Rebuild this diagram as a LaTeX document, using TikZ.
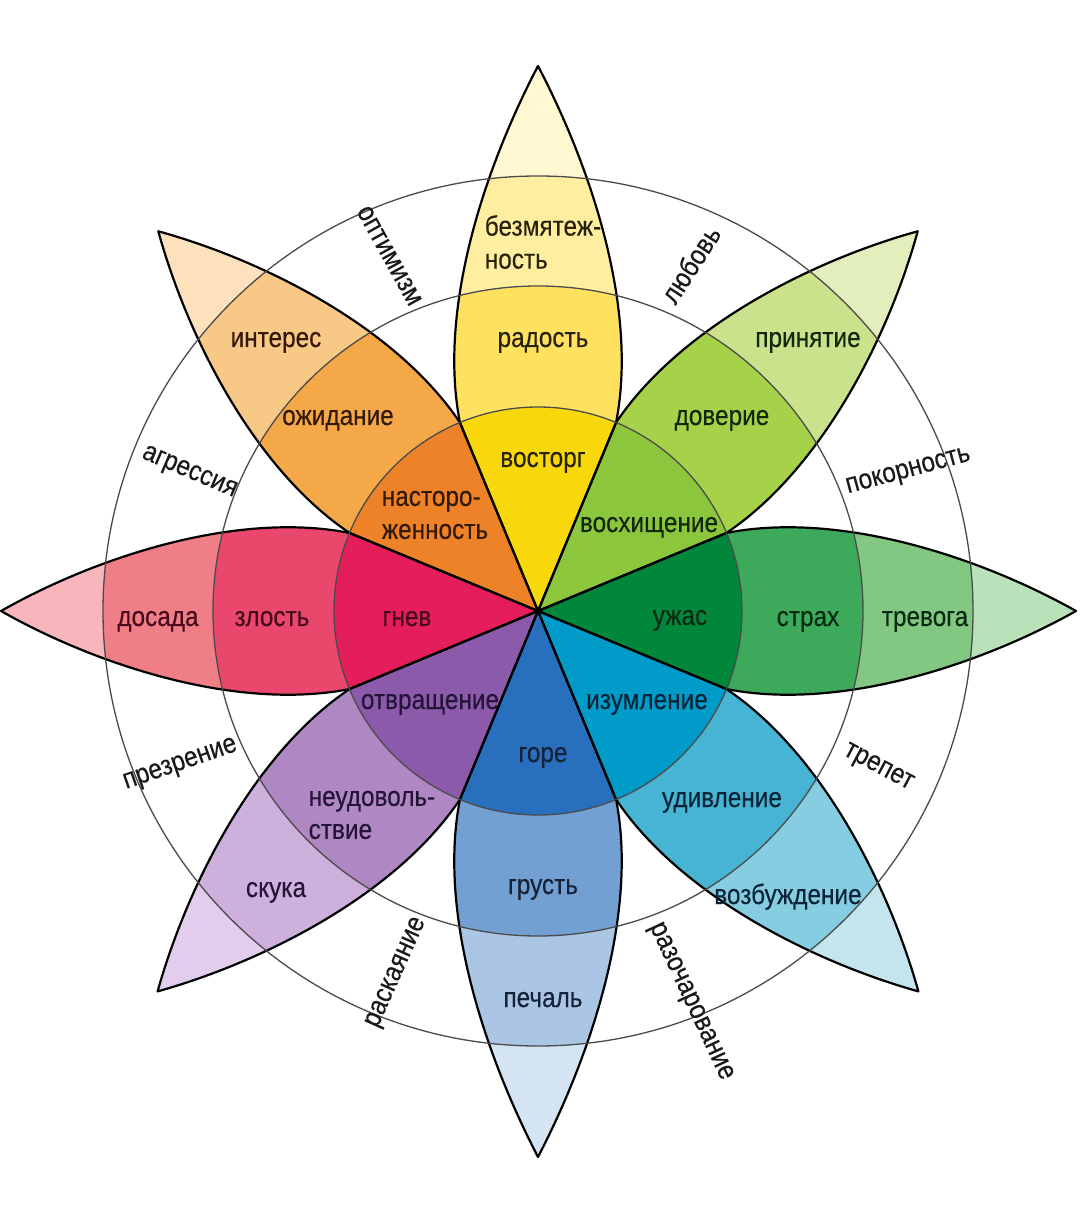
\documentclass[tikz,border=0pt]{standalone}
\usepackage{fontspec}
\setmainfont{Liberation Sans}[FakeStretch=0.87,FakeBold=0.3]
\definecolor{Ya}{RGB}{248,216,10}\definecolor{Yb}{RGB}{254,226,95}\definecolor{Yc}{RGB}{255,238,160}\definecolor{Yd}{RGB}{255,248,208}
\definecolor{Oa}{RGB}{238,130,40}\definecolor{Ob}{RGB}{244,168,72}\definecolor{Oc}{RGB}{248,200,135}\definecolor{Od}{RGB}{252,225,188}
\definecolor{Ra}{RGB}{228,30,90}\definecolor{Rb}{RGB}{233,72,108}\definecolor{Rc}{RGB}{240,126,134}\definecolor{Rd}{RGB}{246,182,188}
\definecolor{Pa}{RGB}{140,90,170}\definecolor{Pb}{RGB}{175,135,195}\definecolor{Pc}{RGB}{205,176,220}\definecolor{Pd}{RGB}{226,206,236}
\definecolor{Ba}{RGB}{40,112,190}\definecolor{Bb}{RGB}{115,160,210}\definecolor{Bc}{RGB}{170,198,228}\definecolor{Bd}{RGB}{212,228,242}
\definecolor{Ca}{RGB}{0,155,200}\definecolor{Cb}{RGB}{70,180,210}\definecolor{Cc}{RGB}{135,205,225}\definecolor{Cd}{RGB}{196,228,238}
\definecolor{Ga}{RGB}{0,135,60}\definecolor{Gb}{RGB}{60,170,90}\definecolor{Gc}{RGB}{130,200,130}\definecolor{Gd}{RGB}{186,226,186}
\definecolor{La}{RGB}{140,198,60}\definecolor{Lb}{RGB}{165,210,72}\definecolor{Lc}{RGB}{202,226,140}\definecolor{Ld}{RGB}{226,238,188}
\definecolor{Ty}{RGB}{40,34,12}\definecolor{To}{RGB}{50,25,8}\definecolor{Tr}{RGB}{72,10,28}\definecolor{Tp}{RGB}{36,20,56}
\definecolor{Tb}{RGB}{22,34,56}\definecolor{Tc}{RGB}{10,36,56}\definecolor{Tg}{RGB}{8,42,18}\definecolor{Tl}{RGB}{18,40,12}
\definecolor{ringcol}{RGB}{75,75,75}
\newcommand\petalshape[1]{(0,0) -- (22.5:204) .. controls (300,100) and (440,55) .. (#1,0) .. controls (440,-55) and (300,-100) .. (-22.5:204) -- cycle}
\newcommand\mypetal[6]{%
\begin{scope}[rotate=#1]
\fill[#6] \petalshape{#2};
\begin{scope}
\clip \petalshape{#2};
\fill[#5] (0,0) circle (435);
\fill[#4] (0,0) circle (325);
\fill[#3] (0,0) circle (204);
\end{scope}
\end{scope}}
\newcommand\petaledge[2]{\draw[petalline,rotate=#1] \petalshape{#2};}
\begin{document}
\begin{tikzpicture}[x=1pt,y=1pt,
  petalline/.style={draw=black,line width=2.2pt,line join=round},
  ringline/.style={draw=ringcol,line width=1.3pt},
  lbl/.style={font=\fontsize{28}{31}\selectfont,text height=14pt,text depth=0pt,inner sep=0pt},
  mlbl/.style={font=\fontsize{28}{33}\selectfont,align=left,inner sep=0pt},
  dlbl/.style={font=\fontsize{28}{31}\selectfont,text=black!90,text height=14pt,text depth=0pt,inner sep=0pt}]
\fill[white] (-538,-620) rectangle (542,611);
\useasboundingbox (-538,-620) rectangle (542,611);
\mypetal{90}{545}{Ya}{Yb}{Yc}{Yd}
\mypetal{135}{537}{Oa}{Ob}{Oc}{Od}
\mypetal{180}{537}{Ra}{Rb}{Rc}{Rd}
\mypetal{225}{538}{Pa}{Pb}{Pc}{Pd}
\mypetal{270}{546}{Ba}{Bb}{Bc}{Bd}
\mypetal{315}{538}{Ca}{Cb}{Cc}{Cd}
\mypetal{0}{538}{Ga}{Gb}{Gc}{Gd}
\mypetal{45}{537}{La}{Lb}{Lc}{Ld}
\petaledge{90}{545}\petaledge{135}{537}\petaledge{180}{537}\petaledge{225}{538}
\petaledge{270}{546}\petaledge{315}{538}\petaledge{0}{538}\petaledge{45}{537}
\draw[ringline] (0,0) circle (204);
\draw[ringline] (0,0) circle (325);
\draw[ringline] (0,0) circle (435);
% primary emotions
\node[lbl,text=Ty] (vostorg) at (5,151) {восторг};
\node[lbl,text=Ty] (radost) at (5,271) {радость};
\node[mlbl,text=Ty] (bezm) at (5,369) {безмятеж-\\ность};
\node[mlbl,text=To] (nastor) at (-103,96) {насторо-\\женность};
\node[lbl,text=To] (ozhid) at (-200,193) {ожидание};
\node[lbl,text=To] (interes) at (-262,271) {интерес};
\node[lbl,text=Tl] (voskh) at (111,86) {восхищение};
\node[lbl,text=Tl] (doverie) at (184,193) {доверие};
\node[lbl,text=Tl] (prin) at (270,271) {принятие};
\node[lbl,text=Tg] (uzhas) at (142,-7) {ужас};
\node[lbl,text=Tg] (strakh) at (270,-8) {страх};
\node[lbl,text=Tg] (trevoga) at (387,-8) {тревога};
\node[lbl,text=Tc] (izum) at (109,-91) {изумление};
\node[lbl,text=Tc] (udiv) at (184,-189) {удивление};
\node[lbl,text=Tc] (vozb) at (250,-286) {возбуждение};
\node[lbl,text=Tb] (gore) at (5,-144) {горе};
\node[lbl,text=Tb] (grust) at (5,-276) {грусть};
\node[lbl,text=Tb] (pechal) at (5,-389) {печаль};
\node[lbl,text=Tp] (otvr) at (-108,-91) {отвращение};
\node[mlbl,text=Tp] (neud) at (-166,-204) {неудоволь-\\ствие};
\node[lbl,text=Tp] (skuka) at (-262,-279) {скука};
\node[lbl,text=Tr] (gnev) at (-131,-8) {гнев};
\node[lbl,text=Tr] (zlost) at (-266,-8) {злость};
\node[lbl,text=Tr] (dosada) at (-380,-8) {досада};
% dyads
\node[dlbl,rotate=-61] (optim) at (-149,355) {оптимизм};
\node[dlbl,rotate=57] (lubov) at (155,345) {любовь};
\node[dlbl,rotate=15] (pokor) at (370,141) {покорность};
\node[dlbl,rotate=-23] (agress) at (-348,140) {агрессия};
\node[dlbl,rotate=19] (prezr) at (-358,-152) {презрение};
\node[dlbl,rotate=-28] (trepet) at (341,-155) {трепет};
\node[dlbl,rotate=66] (raskay) at (-143,-361) {раскаяние};
\node[dlbl,rotate=-65] (razoch) at (154,-390) {разочарование};
\end{tikzpicture}
\end{document}
